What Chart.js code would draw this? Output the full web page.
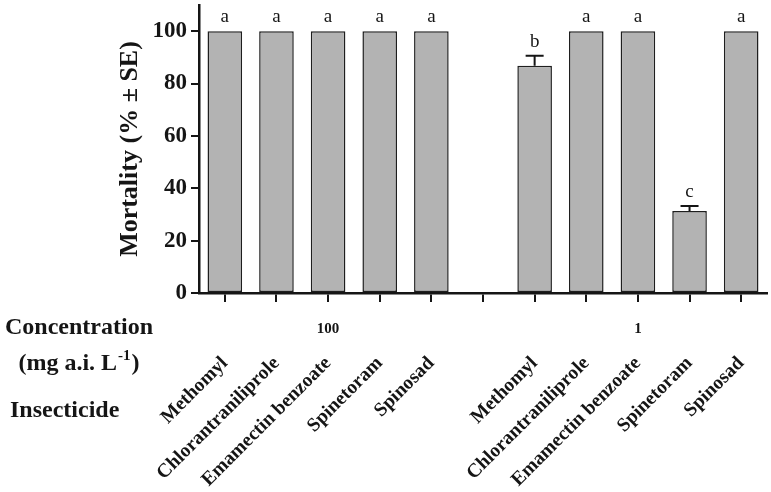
<!DOCTYPE html>
<html><head><meta charset="utf-8">
<script src="https://cdn.jsdelivr.net/npm/chart.js@4/dist/chart.umd.min.js"></script>
<style>html,body{margin:0;padding:0;background:#fff;}canvas{display:block}</style>
</head><body>
<canvas id="c" width="771" height="492"></canvas>
<script>
const categories = ['Methomyl','Chlorantraniliprole','Emamectin benzoate','Spinetoram','Spinosad','','Methomyl','Chlorantraniliprole','Emamectin benzoate','Spinetoram','Spinosad'];
const mortality = [100,100,100,100,100,null,86.8,100,100,31.3,100];
const se = [0,0,0,0,0,null,3.8,0,0,1.9,0];
const letters = ['a','a','a','a','a','','b','a','a','c','a'];
const yTicks = [0,20,40,60,80,100];
const concentrationGroups = [{label:'100', from:0, to:4},{label:'1', from:6, to:10}];

const SERIF = '"Liberation Serif","Times New Roman",serif';
const INK = '#151515';

const extras = {
  id: 'extras',
  afterDatasetsDraw(chart) {
    const ctx = chart.ctx, xs = chart.scales.x, ys = chart.scales.y;
    ctx.save();
    ctx.strokeStyle = INK; ctx.lineWidth = 2;
    mortality.forEach((v, i) => {
      if (v == null) return;
      const xc = xs.getPixelForValue(i);
      const e = se[i] || 0;
      if (e > 0) {
        const y0 = ys.getPixelForValue(v), y1 = ys.getPixelForValue(v + e);
        ctx.beginPath(); ctx.moveTo(xc, y0); ctx.lineTo(xc, y1);
        ctx.moveTo(xc - 9, y1); ctx.lineTo(xc + 9, y1); ctx.stroke();
      }
      ctx.fillStyle = INK; ctx.font = '19px ' + SERIF;
      ctx.textAlign = 'center'; ctx.textBaseline = 'alphabetic';
      ctx.fillText(letters[i], xc, ys.getPixelForValue(v + e) - 9);
    });
    ctx.restore();
  },
  afterDraw(chart) {
    const ctx = chart.ctx, xs = chart.scales.x;
    ctx.save();
    ctx.fillStyle = INK; ctx.textBaseline = 'middle';
    ctx.font = 'bold 24px ' + SERIF; ctx.textAlign = 'center';
    ctx.fillText('Concentration', 79, 328);
    const p1 = '(mg a.i. L', p2 = '-1', p3 = ')';
    ctx.font = 'bold 24px ' + SERIF; const w1 = ctx.measureText(p1).width, w3 = ctx.measureText(p3).width;
    ctx.font = 'bold 15px ' + SERIF; const w2 = ctx.measureText(p2).width;
    let x0 = 78 - (w1 + w2 + w3) / 2;
    ctx.textAlign = 'left';
    ctx.font = 'bold 24px ' + SERIF; ctx.fillText(p1, x0, 364);
    ctx.font = 'bold 15px ' + SERIF; ctx.fillText(p2, x0 + w1 + 1, 356);
    ctx.font = 'bold 24px ' + SERIF; ctx.fillText(p3, x0 + w1 + w2 + 2, 364);
    ctx.fillText('Insecticide', 10, 411);
    ctx.font = 'bold 15px ' + SERIF; ctx.textAlign = 'center';
    concentrationGroups.forEach(g => {
      ctx.fillText(g.label, xs.getPixelForValue((g.from + g.to) / 2), 329);
    });
    ctx.restore();
  }
};

new Chart(document.getElementById('c'), {
  type: 'bar',
  data: {
    labels: categories,
    datasets: [{
      data: mortality,
      backgroundColor: '#b3b3b3',
      borderColor: '#1e1e1e',
      borderWidth: 1.5,
      borderSkipped: false,
      barPercentage: 0.67,
      categoryPercentage: 1.0
    }]
  },
  options: {
    responsive: false,
    animation: false,
    layout: { padding: { top: 5, right: 4, left: 0, bottom: 0 } },
    plugins: { legend: { display: false }, tooltip: { enabled: false } },
    scales: {
      x: {
        grid: { display: true, offset: false, drawOnChartArea: false, drawTicks: true, tickLength: 9, color: INK, lineWidth: 2 },
        border: { display: true, color: INK, width: 2.5 },
        ticks: {
          autoSkip: false, minRotation: 45, maxRotation: 45, padding: 50,
          color: INK, font: { family: SERIF, size: 19.5, weight: 'bold' }
        },
        afterFit(axis) { axis.height = 199; axis.paddingLeft = 0; axis.paddingRight = 0; }
      },
      y: {
        min: 0, max: 110,
        grid: { display: true, drawOnChartArea: false, drawTicks: true, tickLength: 8, color: INK, lineWidth: 2 },
        border: { display: true, color: INK, width: 2.5 },
        ticks: { stepSize: 20, padding: 4, color: INK, font: { family: SERIF, size: 23, weight: 'bold' } },
        afterBuildTicks(axis) { axis.ticks = yTicks.map(v => ({ value: v })); },
        title: { display: true, text: 'Mortality (% ± SE)', color: INK, font: { family: SERIF, size: 26, weight: 'bold' }, padding: { top: 115, bottom: 0 } },
        afterFit(axis) { axis.width = 199; axis.paddingTop = 0; axis.paddingBottom = 0; }
      }
    }
  },
  plugins: [extras]
});
</script>
</body></html>
